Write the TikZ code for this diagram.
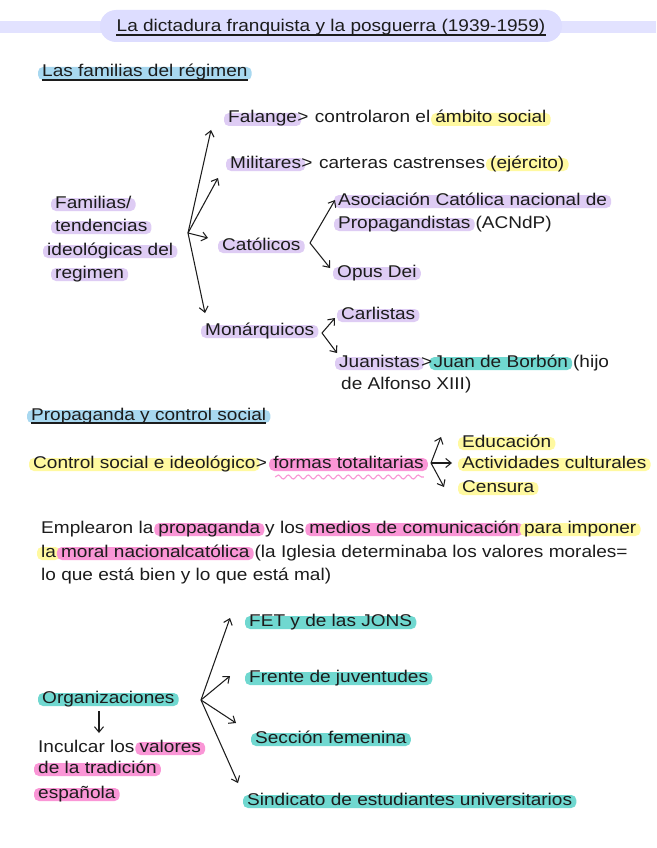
\documentclass[tikz,border=0pt]{standalone}
\usepackage{fontspec}
\setmainfont[FakeStretch=1.12]{Liberation Sans}
\usetikzlibrary{arrows.meta,calc,backgrounds,decorations.pathmorphing}
\definecolor{ink}{RGB}{28,28,28}
\definecolor{lav}{RGB}{222,204,244}
\definecolor{yel}{RGB}{255,249,160}
\definecolor{pnk}{RGB}{250,150,214}
\definecolor{tea}{RGB}{112,216,208}
\definecolor{blu}{RGB}{168,216,240}
\definecolor{pillc}{RGB}{221,221,255}
\newcommand\hwfont{\fontsize{17}{20}\selectfont}
\newcommand\hlb[2]{\fill[#1,rounded corners=5pt] ($(#2.base west)+(-4,3)$) rectangle ($(#2.base east)+(4,-10)$);}
\newcommand\ulin[1]{\draw[ink,line width=1.1pt] ($(#1.base west)+(0,3)$) -- ($(#1.base east)+(0,3)$);}
\begin{document}
\begin{tikzpicture}[x=1pt,y=-1pt,
  w/.style={inner sep=0pt,anchor=base west,font=\hwfont,text=ink},
  arr/.style={draw=ink,line width=1.05pt,-{Straight Barb[length=5.5pt,width=9pt]}}]
\useasboundingbox (0,0) rectangle (656,848);
% title
\fill[pillc!85] (0,21) rectangle (656,33);
\node[fill=pillc,rounded corners=16pt,minimum width=462pt,minimum height=32pt,inner sep=0pt] (pillbox) at (331,26) {};
\node[w,anchor=base] (title) at (331,32) {La dictadura franquista y la posguerra (1939-1959)};
\ulin{title}
% header 1
\node[w] (h1) at (42,77) {Las familias del régimen};
\ulin{h1}
% families
\node[w] (fa1) at (55,208) {Familias/};
\node[w] (fa2) at (55,231) {tendencias};
\node[w] (fa3) at (47,255) {ideológicas del};
\node[w] (fa4) at (55,278) {regimen};
\coordinate (famo) at (188,233);
\node[w] (fal1) at (228,123) {Falange};
\node[w] (falg) at (fal1.base east) {>};
\node[w] (fal2) at ($(falg.base east)+(6,0)$) {controlaron el};
\node[w] (fal3) at ($(fal2.base east)+(4.7,0)$) {ámbito social};
\node[w] (mil1) at (230,168) {Militares};
\node[w] (milg) at (mil1.base east) {>};
\node[w] (mil2) at ($(milg.base east)+(6,0)$) {carteras castrenses};
\node[w] (mil3) at ($(mil2.base east)+(4.7,0)$) {(ejército)};
\node[w] (cat) at (222,250) {Católicos};
\node[w] (aso1) at (338,205) {Asociación Católica nacional de};
\node[w] (aso2) at (338,228) {Propagandistas};
\node[w] (aso3) at ($(aso2.base east)+(4.7,0)$) {(ACNdP)};
\node[w] (opus) at (337,277) {Opus Dei};
\node[w] (mon) at (205,335) {Monárquicos};
\node[w] (carl) at (341,319) {Carlistas};
\node[w] (jua1) at (339,367) {Juanistas};
\node[w] (juag) at ($(jua1.base east)+(1,0)$) {>};
\node[w] (jua2) at ($(juag.base east)+(1,0)$) {Juan de Borbón};
\node[w] (jua3) at ($(jua2.base east)+(4.7,0)$) {(hijo};
\node[w] (jua4) at (341,389) {de Alfonso XIII)};
\draw[arr] (famo) -- ($(fal1.base west)+(-17,7)$);
\draw[arr] (famo) -- ($(mil1.base west)+(-12,10)$);
\draw[arr] (famo) -- ($(cat.base west)+(-14,-12)$);
\draw[arr] (famo) -- ($(mon.base west)+(0,-22)$);
\coordinate (cato) at (310,243);
\draw[arr] (cato) -- ($(aso1.base west)+(-3,-5)$);
\draw[arr] (cato) -- ($(opus.base west)+(-7,-9)$);
\coordinate (mono) at (322,333);
\draw[arr] (mono) -- ($(carl.base west)+(-6,-1)$);
\draw[arr] (mono) -- ($(jua1.base west)+(-2,-14)$);
% header 2
\node[w] (h2) at (31,420) {Propaganda y control social};
\ulin{h2}
\node[w] (ctl1) at (33,468) {Control social e ideológico};
\node[w] (ctlg) at (ctl1.base east) {>};
\node[w] (ctl2) at ($(ctlg.base east)+(6,0)$) {formas totalitarias};
\draw[pnk,line width=1.1pt,decorate,decoration={snake,amplitude=2pt,segment length=10pt}] ($(ctl2.base west)+(2,9)$) -- ($(ctl2.base east)+(0,9)$);
\node[w] (edu) at (462,447) {Educación};
\node[w] (act) at (462,468) {Actividades culturales};
\node[w] (cen) at (462,492) {Censura};
\coordinate (ctlo) at (431,463);
\draw[arr] (ctlo) -- ($(edu.base west)+(-21,-10)$);
\draw[arr] (ctlo) -- ($(act.base west)+(-10,-5)$);
\draw[arr] (ctlo) -- ($(cen.base west)+(-18,-5)$);
% paragraph
\node[w] (p1) at (41,533) {Emplearon la};
\node[w] (p2) at ($(p1.base east)+(4.7,0)$) {propaganda};
\node[w] (p3) at ($(p2.base east)+(4.7,0)$) {y los};
\node[w] (p4) at ($(p3.base east)+(4.7,0)$) {medios de comunicación};
\node[w] (p5) at ($(p4.base east)+(4.7,0)$) {para imponer};
\node[w] (q1) at (41,557) {la};
\node[w] (q2) at ($(q1.base east)+(4.7,0)$) {moral nacionalcatólica};
\node[w] (q3) at ($(q2.base east)+(4.7,0)$) {(la Iglesia determinaba los valores morales=};
\node[w] (r1) at (41,580) {lo que está bien y lo que está mal)};
% organizaciones
\node[w] (fet) at (249,626) {FET y de las JONS};
\node[w] (fre) at (249,682) {Frente de juventudes};
\node[w] (sec) at (255,743) {Sección femenina};
\node[w] (sin) at (247,805) {Sindicato de estudiantes universitarios};
\node[w] (org) at (42,703) {Organizaciones};
\node[w] (inc1) at (38,752) {Inculcar los};
\node[w] (inc2) at ($(inc1.base east)+(4.7,0)$) {valores};
\node[w] (inc3) at (38,773) {de la tradición};
\node[w] (inc4) at (38,798) {española};
\coordinate (orgo) at (201,700);
\draw[arr] (orgo) -- ($(fet.base west)+(-19,-8)$);
\draw[arr] (orgo) -- ($(fre.base west)+(-19,-6)$);
\draw[arr] (orgo) -- ($(sec.base west)+(-19,-20)$);
\draw[arr] (orgo) -- ($(sin.base west)+(-9,-22)$);
\draw[arr] ($(org.base west)+(57,8)$) -- ($(inc1.base west)+(61,-19)$);
% highlights
\begin{scope}[on background layer]
\fill[white] (0,0) rectangle (656,848);
\hlb{blu}{h1}\hlb{blu}{h2}
\hlb{lav}{fa1}\hlb{lav}{fa2}\hlb{lav}{fa3}\hlb{lav}{fa4}
\hlb{lav}{fal1}\hlb{yel}{fal3}
\hlb{lav}{mil1}\hlb{yel}{mil3}
\hlb{lav}{cat}\hlb{lav}{aso1}\hlb{lav}{aso2}\hlb{lav}{opus}
\hlb{lav}{mon}\hlb{lav}{carl}\hlb{lav}{jua1}\hlb{tea}{jua2}
\hlb{yel}{ctl1}\hlb{pnk}{ctl2}
\hlb{yel}{edu}\hlb{yel}{act}\hlb{yel}{cen}
\hlb{pnk}{p2}\hlb{pnk}{p4}\hlb{yel}{p5}\hlb{yel}{q1}\hlb{pnk}{q2}
\hlb{tea}{fet}\hlb{tea}{fre}\hlb{tea}{sec}\hlb{tea}{sin}\hlb{tea}{org}
\hlb{pnk}{inc2}\hlb{pnk}{inc3}\hlb{pnk}{inc4}
\end{scope}
\end{tikzpicture}
\end{document}
